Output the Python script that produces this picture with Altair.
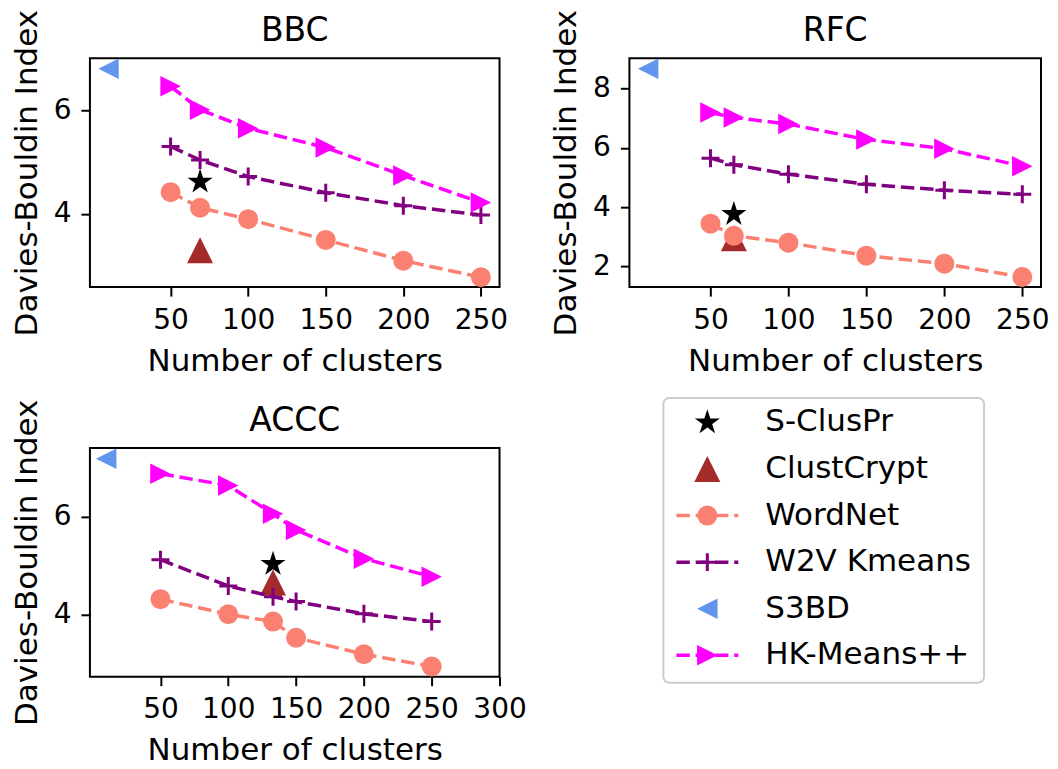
import math
import altair as alt
import pandas as pd

# ---------------- data ----------------
series_names = ["S-ClusPr", "ClustCrypt", "WordNet", "W2V Kmeans", "S3BD", "HK-Means++"]

# BBC
bbc_x = [50, 69, 100, 150, 200, 250]
bbc_wordnet = [4.42, 4.12, 3.90, 3.50, 3.10, 2.78]
bbc_w2v = [5.30, 5.04, 4.72, 4.41, 4.16, 3.98]
bbc_hk = [6.46, 6.01, 5.65, 5.28, 4.74, 4.22]
bbc_sclus_x, bbc_sclus_y = [69], [4.62]
bbc_clust_x, bbc_clust_y = [69], [3.30]
bbc_s3bd_x, bbc_s3bd_y = [10], [6.80]

# RFC
rfc_x = [50, 65, 100, 150, 200, 250]
rfc_wordnet = [3.44, 3.03, 2.80, 2.36, 2.09, 1.64]
rfc_w2v = [5.65, 5.43, 5.11, 4.77, 4.57, 4.43]
rfc_hk = [7.19, 7.02, 6.80, 6.28, 5.97, 5.38]
rfc_sclus_x, rfc_sclus_y = [65], [3.76]
rfc_clust_x, rfc_clust_y = [65], [2.95]
rfc_s3bd_x, rfc_s3bd_y = [10], [8.67]

# ACCC
accc_x = [50, 100, 133, 150, 200, 250]
accc_wordnet = [4.31, 4.00, 3.85, 3.52, 3.18, 2.93]
accc_w2v = [5.12, 4.58, 4.36, 4.26, 4.01, 3.85]
accc_hk = [6.88, 6.64, 6.06, 5.73, 5.14, 4.77]
accc_sclus_x, accc_sclus_y = [133], [5.03]
accc_clust_x, accc_clust_y = [133], [4.65]
accc_s3bd_x, accc_s3bd_y = [10], [7.19]

# axis settings
bbc_xticks = [50, 100, 150, 200, 250]
rfc_xticks = [50, 100, 150, 200, 250]
accc_xticks = [50, 100, 150, 200, 250, 300]
bbc_yticks = [4, 6]
rfc_yticks = [2, 4, 6, 8]
accc_yticks = [4, 6]
bbc_xdom, bbc_ydom = [-2, 262], [2.59, 7.0]
rfc_xdom, rfc_ydom = [-2, 262], [1.30, 9.02]
accc_xdom, accc_ydom = [-2, 300], [2.72, 7.41]


def panel_frame(xs, wordnet, w2v, hk, sx, sy, cx, cy, s3x, s3y):
    rows = []
    rows += [("S-ClusPr", a, b) for a, b in zip(sx, sy)]
    rows += [("ClustCrypt", a, b) for a, b in zip(cx, cy)]
    rows += [("WordNet", a, b) for a, b in zip(xs, wordnet)]
    rows += [("W2V Kmeans", a, b) for a, b in zip(xs, w2v)]
    rows += [("S3BD", a, b) for a, b in zip(s3x, s3y)]
    rows += [("HK-Means++", a, b) for a, b in zip(xs, hk)]
    return pd.DataFrame(rows, columns=["series", "x", "y"])


bbc_df = panel_frame(bbc_x, bbc_wordnet, bbc_w2v, bbc_hk, bbc_sclus_x, bbc_sclus_y,
                     bbc_clust_x, bbc_clust_y, bbc_s3bd_x, bbc_s3bd_y)
rfc_df = panel_frame(rfc_x, rfc_wordnet, rfc_w2v, rfc_hk, rfc_sclus_x, rfc_sclus_y,
                     rfc_clust_x, rfc_clust_y, rfc_s3bd_x, rfc_s3bd_y)
accc_df = panel_frame(accc_x, accc_wordnet, accc_w2v, accc_hk, accc_sclus_x, accc_sclus_y,
                      accc_clust_x, accc_clust_y, accc_s3bd_x, accc_s3bd_y)

# ---------------- marker styles (matplotlib-like) ----------------
_pts = []
for k in range(10):
    r = 1.0 if k % 2 == 0 else 0.381966
    a = math.radians(-90 + 36 * k)
    _pts.append(f"{r * math.cos(a):.4f},{r * math.sin(a):.4f}")
STAR = "M" + "L".join(_pts) + "Z"
TRI_UP = "M0,-1L1,1L-1,1Z"
TRI_LEFT = "M-1,0L1,-1L1,1Z"
TRI_RIGHT = "M1,0L-1,-1L-1,1Z"
CROSS = "M-1,0L1,0M0,-1L0,1"

styles = {
    "S-ClusPr": dict(shape=STAR, size=400, color="black", filled=True, edge=2, line=False),
    "ClustCrypt": dict(shape=TRI_UP, size=676, color="#a52a2a", filled=True, edge=0, line=False),
    "WordNet": dict(shape="circle", size=400, color="#fa8072", filled=True, edge=0, line=True),
    "W2V Kmeans": dict(shape=CROSS, size=324, color="#800080", filled=False, edge=3, line=True),
    "S3BD": dict(shape=TRI_LEFT, size=420, color="#6495ed", filled=True, edge=0, line=False),
    "HK-Means++": dict(shape=TRI_RIGHT, size=420, color="#ff00ff", filled=True, edge=0, line=True),
}
DASH = [13.5, 5.8]
LW = 3.5
FONT = "DejaVu Sans"


def point_mark(base, name):
    st = styles[name]
    kw = dict(shape=st["shape"], size=st["size"], opacity=1)
    if st["filled"]:
        kw.update(filled=True, fill=st["color"])
        if st["edge"]:
            kw.update(stroke=st["color"], strokeWidth=st["edge"])
        else:
            kw.update(strokeWidth=0)
    else:
        kw.update(filled=False, stroke=st["color"], strokeWidth=st["edge"])
    return base.mark_point(**kw)


def make_panel(title, df, xdom, ydom, xticks, yticks, width, height):
    base = alt.Chart(df)
    x = alt.X("x:Q", scale=alt.Scale(domain=xdom, nice=False, zero=False),
              axis=alt.Axis(values=xticks, title="Number of clusters"))
    y = alt.Y("y:Q", scale=alt.Scale(domain=ydom, nice=False, zero=False),
              axis=alt.Axis(values=yticks, title="Davies-Bouldin Index"))
    layers = []
    for name in series_names:
        st = styles[name]
        sub = base.transform_filter(alt.datum.series == name)
        if st["line"]:
            layers.append(sub.mark_line(color=st["color"], strokeWidth=LW, strokeDash=DASH)
                          .encode(x=x, y=y, order="x:Q"))
        layers.append(point_mark(sub, name).encode(x=x, y=y))
    return alt.layer(*layers).properties(
        width=width, height=height,
        title=alt.TitleParams(title))


bbc = make_panel("BBC", bbc_df, bbc_xdom, bbc_ydom, bbc_xticks, bbc_yticks, 410, 229)
rfc = make_panel("RFC", rfc_df, rfc_xdom, rfc_ydom, rfc_xticks, rfc_yticks, 412, 229)
accc = make_panel("ACCC", accc_df, accc_xdom, accc_ydom, accc_xticks, accc_yticks, 410, 229)

# ---------------- legend panel (drawn in the 4th grid cell) ----------------
legend_df = pd.DataFrame({"series": series_names, "idx": list(range(len(series_names)))})
lbase = alt.Chart(legend_df)
ly = alt.Y("idx:Q", scale=alt.Scale(domain=[0, 5], range=[-25.5, 207.5]), axis=None)
leg_layers = [
    alt.Chart(pd.DataFrame({"k": [0]})).mark_rect(
        fill="white", stroke="#cccccc", strokeWidth=2, cornerRadius=6
    ).encode(x=alt.value(34), x2=alt.value(355), y=alt.value(-50), y2=alt.value(235))
]
for name in series_names:
    st = styles[name]
    sub = lbase.transform_filter(alt.datum.series == name)
    if st["line"]:
        leg_layers.append(sub.mark_rule(color=st["color"], strokeWidth=LW, strokeDash=DASH)
                          .encode(x=alt.value(47), x2=alt.value(109), y=ly))
    leg_layers.append(point_mark(sub, name).encode(x=alt.value(78), y=ly))
leg_layers.append(lbase.mark_text(align="left", baseline="middle", font=FONT, fontSize=31,
                                  color="black").encode(x=alt.value(136), y=ly, text="series:N"))
legend = alt.layer(*leg_layers).properties(
    width=355, height=229, view=alt.ViewBackground(strokeOpacity=0))

chart = alt.concat(
    bbc, rfc, accc, legend, columns=2,
    spacing={"row": 161, "column": 130}, bounds="flush"
).properties(
    padding={"left": 2, "top": 0, "right": 0, "bottom": 0}
).configure_view(
    stroke="black", strokeWidth=2
).configure_axis(
    domain=False, grid=False, ticks=True, tickColor="black", tickWidth=2, tickSize=9,
    labelFont=FONT, labelFontSize=28, labelColor="black", labelPadding=10,
    labelFlush=False, labelOverlap=False,
    titleFont=FONT, titleFontSize=31, titleFontWeight="normal", titleColor="black"
).configure_axisX(titlePadding=12).configure_axisY(titlePadding=10).configure_title(
    font=FONT, fontSize=33, fontWeight="normal", color="black", anchor="middle",
    frame="group", baseline="alphabetic", offset=-39
)

chart.save("out.html", embed_options={"renderer": "svg", "actions": False})
